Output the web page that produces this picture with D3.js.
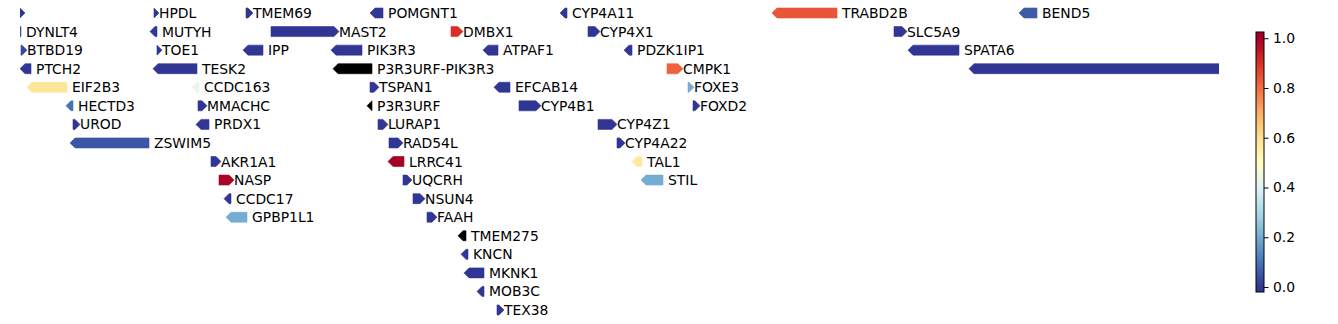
<!DOCTYPE html>
<html>
<head>
<meta charset="utf-8">
<script src="https://cdn.jsdelivr.net/npm/d3@7"></script>
<style>
  html, body { margin: 0; padding: 0; background: #fff; }
  svg { display: block; }
  text { font-family: "DejaVu Sans", sans-serif; }
</style>
</head>
<body>
<div id="chart"></div>
<script>
// ---- data ----
const geneNames = [
  "", "HPDL", "TMEM69", "POMGNT1", "CYP4A11", "TRABD2B", "BEND5",
  "DYNLT4", "MUTYH", "MAST2", "DMBX1", "CYP4X1", "SLC5A9",
  "BTBD19", "TOE1", "IPP", "PIK3R3", "ATPAF1", "PDZK1IP1", "SPATA6",
  "PTCH2", "TESK2", "P3R3URF-PIK3R3", "CMPK1", "",
  "EIF2B3", "CCDC163", "TSPAN1", "EFCAB14", "FOXE3",
  "HECTD3", "MMACHC", "P3R3URF", "CYP4B1", "FOXD2",
  "UROD", "PRDX1", "LURAP1", "CYP4Z1",
  "ZSWIM5", "RAD54L", "CYP4A22",
  "AKR1A1", "LRRC41", "TAL1",
  "NASP", "UQCRH", "STIL",
  "CCDC17", "NSUN4",
  "GPBP1L1", "FAAH",
  "TMEM275",
  "KNCN",
  "MKNK1",
  "MOB3C",
  "TEX38"
];
const geneRows = [
  0, 0, 0, 0, 0, 0, 0,
  1, 1, 1, 1, 1, 1,
  2, 2, 2, 2, 2, 2, 2,
  3, 3, 3, 3, 3,
  4, 4, 4, 4, 4,
  5, 5, 5, 5, 5,
  6, 6, 6, 6,
  7, 7, 7,
  8, 8, 8,
  9, 9, 9,
  10, 10,
  11, 11,
  12,
  13,
  14,
  15,
  16
];
const geneStarts = [
  -5, 134, 226, 355, 545, 757, 1004,
  -3, 135, 251, 431, 568, 874,
  1, 137, 228, 316, 468, 609, 893,
  5, 138, 318, 647, 954,
  12, 177, 350, 479, 668,
  51, 178, 352, 499, 673,
  53, 181, 358, 578,
  55, 369, 597,
  191, 373, 617,
  199, 383, 626,
  209, 393,
  211, 407,
  443,
  446,
  449,
  462,
  477
];
const geneEnds = [
  0, 134, 228, 363, 547, 817, 1017,
  1, 137, 314, 438, 575, 882,
  2, 137, 243, 342, 478, 612, 939,
  11, 177, 352, 658, 1250,
  47, 179, 354, 490, 669,
  53, 182, 352, 516, 675,
  55, 189, 363, 592,
  129, 378, 600,
  196, 384, 622,
  209, 387, 643,
  211, 400,
  227, 412,
  446,
  448,
  464,
  464,
  479
];
const geneStrands = [
  "+", "+", "+", "-", "-", "-", "-",
  "-", "-", "+", "+", "+", "+",
  "+", "+", "-", "-", "-", "-", "-",
  "-", "-", "-", "+", "-",
  "-", "-", "+", "-", "+",
  "-", "+", "-", "+", "+",
  "+", "-", "+", "+",
  "-", "+", "+",
  "+", "-", "-",
  "+", "+", "-",
  "-", "+",
  "-", "+",
  "-",
  "-",
  "-",
  "-",
  "+"
];
const geneValues = [
  0, 0, 0, 0, 0, 0.84, 0.06,
  0.05, 0, 0, 0.9, 0, 0,
  0.03, 0, 0, 0, 0, 0, 0,
  0, 0, null, 0.82, 0,
  0.58, 0.43, 0, 0, 0.2,
  0.1, 0, null, 0, 0,
  0, 0, 0, 0,
  0.05, 0, 0,
  0, 1.0, 0.57,
  0.99, 0, 0.2,
  0, 0,
  0.2, 0,
  null,
  0,
  0,
  0,
  0
];
const xDomain = [0, 1199];
const rowIds = d3.range(17);
const colorbarDomain = [-0.02, 1.025];
const colorbarTicks = [0.0, 0.2, 0.4, 0.6, 0.8, 1.0];
const colorbarTickLabels = ["0.0", "0.2", "0.4", "0.6", "0.8", "1.0"];
const rdylbuStops = ["#313695","#4575b4","#74add1","#abd9e9","#e0f3f8","#ffffbf","#fee090","#fdae61","#f46d43","#d73027","#a50026"];

// ---- layout ----
const W = 1338, H = 324;
const plotLeft = 20, plotRight = 1219;
const barH = 10, headLen = 5, labelPad = 5;
const fontSize = 13.9;

const svg = d3.select("#chart").append("svg").attr("width", W).attr("height", H);

const x = d3.scaleLinear().domain(xDomain).range([plotLeft, plotRight]);
const y = d3.scalePoint().domain(rowIds).range([13, 310]);
const color = d3.scaleLinear()
  .domain(d3.range(rdylbuStops.length).map(i => i / (rdylbuStops.length - 1)))
  .range(rdylbuStops)
  .interpolate(d3.interpolateRgb)
  .clamp(true);

const defs = svg.append("defs");
defs.append("clipPath").attr("id", "plotclip")
  .append("rect").attr("x", plotLeft).attr("y", 0)
  .attr("width", plotRight - plotLeft).attr("height", H);

const genes = geneNames.map((n, i) => ({
  name: n, row: geneRows[i], start: geneStarts[i], end: geneEnds[i],
  strand: geneStrands[i], value: geneValues[i]
}));

function arrowPath(d) {
  const cy = y(d.row);
  const t = cy - barH / 2, b = cy + barH / 2;
  const x0 = x(d.start), x1 = x(d.end);
  const p = d3.path();
  if (d.strand === "+") {
    p.moveTo(x0, t); p.lineTo(x1, t); p.lineTo(x1 + headLen, cy);
    p.lineTo(x1, b); p.lineTo(x0, b); p.closePath();
  } else {
    p.moveTo(x1, t); p.lineTo(x0, t); p.lineTo(x0 - headLen, cy);
    p.lineTo(x0, b); p.lineTo(x1, b); p.closePath();
  }
  return p.toString();
}

const g = svg.append("g").attr("clip-path", "url(#plotclip)");
g.selectAll("path.gene").data(genes).join("path")
  .attr("class", "gene")
  .attr("d", arrowPath)
  .attr("fill", d => d.value == null ? "#000" : color(d.value))
  .attr("stroke", d => d.value == null ? "#000" : color(d.value))
  .attr("stroke-width", 0.6)
  .attr("stroke-linejoin", "round");

svg.selectAll("text.label").data(genes.filter(d => d.name !== "")).join("text")
  .attr("class", "label")
  .attr("x", d => x(d.end) + labelPad)
  .attr("y", d => y(d.row))
  .attr("dy", "0.36em")
  .attr("font-size", fontSize)
  .attr("fill", "#000")
  .text(d => d.name);

// ---- colorbar ----
const cbX = 1256, cbW = 8, cbTop = 32, cbBottom = 292;
const cbScale = d3.scaleLinear().domain(colorbarDomain).range([cbBottom, cbTop]);
const grad = defs.append("linearGradient")
  .attr("id", "cbgrad").attr("x1", 0).attr("y1", 1).attr("x2", 0).attr("y2", 0);
const gradSteps = d3.range(0, 1.0001, 0.02);
grad.selectAll("stop").data(gradSteps).join("stop")
  .attr("offset", d => d)
  .attr("stop-color", d => color(colorbarDomain[0] + d * (colorbarDomain[1] - colorbarDomain[0])));
svg.append("rect")
  .attr("x", cbX).attr("y", cbTop).attr("width", cbW).attr("height", cbBottom - cbTop)
  .attr("fill", "url(#cbgrad)")
  .attr("stroke", "#000").attr("stroke-width", 1);

const cbAxis = d3.axisRight(cbScale)
  .tickValues(colorbarTicks)
  .tickFormat((d, i) => colorbarTickLabels[i])
  .tickSize(4.5).tickPadding(4.5);
const ax = svg.append("g").attr("transform", `translate(${cbX + cbW},0)`).call(cbAxis);
ax.select(".domain").remove();
ax.selectAll("line").attr("stroke", "#000").attr("stroke-width", 1);
ax.selectAll("text").attr("font-size", fontSize).attr("font-family", "DejaVu Sans, sans-serif").attr("fill", "#000");
</script>
</body>
</html>
